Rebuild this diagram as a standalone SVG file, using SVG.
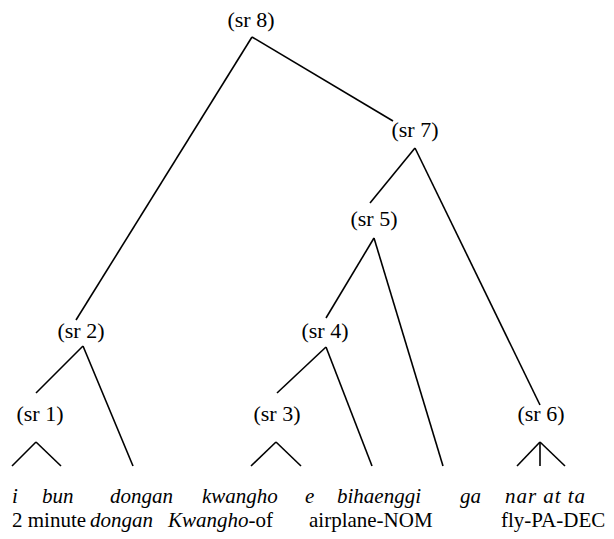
<svg xmlns="http://www.w3.org/2000/svg" width="614" height="539" viewBox="0 0 614 539">
<style>
text{font-family:"Liberation Serif","Times New Roman","DejaVu Serif",serif;font-size:21px;fill:#000}
.n{text-anchor:middle;font-size:22px}
.i{font-style:italic}
line{stroke:#000;stroke-width:1.6;stroke-linecap:butt}
</style>
<rect width="614" height="539" fill="#fff"/>
<g id="connectors">
<line x1="252" y1="37" x2="76" y2="320"/>
<line x1="252" y1="37" x2="393" y2="121"/>
<line x1="415" y1="148" x2="370" y2="203"/>
<line x1="415" y1="148" x2="540" y2="405"/>
<line x1="374" y1="238" x2="326" y2="318"/>
<line x1="374" y1="238" x2="443" y2="466"/>
<line x1="83" y1="346" x2="36" y2="393"/>
<line x1="83" y1="346" x2="133" y2="466"/>
<line x1="326" y1="347" x2="277" y2="393"/>
<line x1="326" y1="347" x2="372" y2="466"/>
<line x1="12" y1="466" x2="36" y2="442"/>
<line x1="36" y1="442" x2="61" y2="466"/>
<line x1="251" y1="466" x2="276" y2="442"/>
<line x1="276" y1="442" x2="301" y2="466"/>
<line x1="517" y1="466" x2="540" y2="442"/>
<line x1="540" y1="442" x2="565" y2="466"/>
<line x1="540" y1="442" x2="540" y2="466"/>
</g>
<g id="sr8"><text class="n" x="251" y="27">(sr 8)</text></g>
<g id="sr7"><text class="n" x="415" y="137">(sr 7)</text></g>
<g id="sr5"><text class="n" x="374" y="226">(sr 5)</text></g>
<g id="sr2"><text class="n" x="81" y="338">(sr 2)</text></g>
<g id="sr4"><text class="n" x="325" y="338">(sr 4)</text></g>
<g id="sr1"><text class="n" x="40" y="421">(sr 1)</text></g>
<g id="sr3"><text class="n" x="277" y="421">(sr 3)</text></g>
<g id="sr6"><text class="n" x="541" y="421">(sr 6)</text></g>
<g id="words">
<text class="i" x="12" y="503">i</text>
<text class="i" x="42" y="503">bun</text>
<text class="i" x="110" y="503">dongan</text>
<text class="i" x="202" y="503">kwangho</text>
<text class="i" x="305" y="503">e</text>
<text class="i" x="337" y="503">bihaenggi</text>
<text class="i" x="460" y="503">ga</text>
<text class="i" x="505" y="503" textLength="80" lengthAdjust="spacing">nar at ta</text>
<text x="12" y="527">2 minute</text>
<text class="i" x="90" y="527">dongan</text>
<text x="168" y="527"><tspan class="i">Kwangho</tspan>-of</text>
<text x="309" y="527">airplane-NOM</text>
<text x="501" y="527">fly-PA-DEC</text>
</g>
</svg>
